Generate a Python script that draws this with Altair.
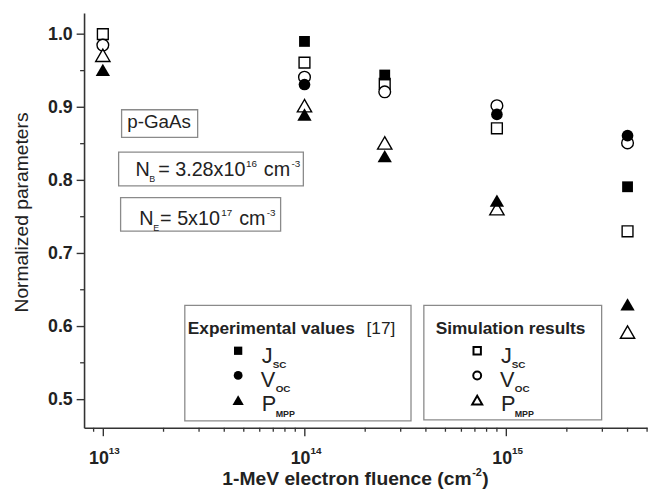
import altair as alt
import pandas as pd

# ---------------- data ----------------
fluence = [1e13, 1e14, 2.5e14, 9e14, 4e15]
sim_jsc = [1.000, 0.961, 0.932, 0.871, 0.730]
sim_voc = [0.985, 0.941, 0.921, 0.902, 0.851]
sim_pmpp = [0.971, 0.902, 0.851, 0.761, 0.592]

exp_jsc_fluence = [1e14, 2.5e14, 4e15]
exp_jsc = [0.990, 0.944, 0.791]
exp_voc_fluence = [1e14, 9e14, 4e15]
exp_voc = [0.931, 0.890, 0.861]
exp_pmpp = [0.951, 0.890, 0.833, 0.772, 0.630]

x_major = [1e13, 1e14, 1e15]
x_major_exp = ["13", "14", "15"]
x_minor = [9e12] + [k * 1e13 for k in range(2, 10)] + [k * 1e14 for k in range(2, 10)] + [k * 1e15 for k in range(2, 6)]
y_major = [0.5, 0.6, 0.7, 0.8, 0.9, 1.0]
y_minor = [0.55, 0.65, 0.75, 0.85, 0.95]

# ---------------- layout ----------------
FONT = "Liberation Sans"
OX, OY = 85, 10          # plot origin on the page
W, H = 570, 420
AX = "#333333"

xs = alt.Scale(type="log", domain=[8.07e12, 5e15], nice=False)
ys = alt.Scale(domain=[0.461, 1.029], nice=False, zero=False)
x_axis = alt.Axis(values=x_major, labels=False, title=None, grid=False, tickSize=8,
                  tickColor=AX, domainColor=AX, domainWidth=1.6, tickWidth=1.4)
y_axis = alt.Axis(values=y_major, format=".1f", title=None, grid=False, tickSize=8,
                  labelFont=FONT, labelFontSize=18, labelFontWeight="bold", labelColor="#222",
                  labelPadding=4, tickColor=AX, domainColor=AX, domainWidth=1.6, tickWidth=1.4)


def X(field):
    return alt.X(field, type="quantitative", scale=xs, axis=x_axis)


def Y(field):
    return alt.Y(field, type="quantitative", scale=ys, axis=y_axis)


def series(xv, yv):
    return pd.DataFrame({"f": xv, "v": yv})


def pts(df, shape, size, open_):
    if open_:
        m = alt.Chart(df).mark_point(shape=shape, size=size, filled=True, fill="white",
                                     stroke="black", strokeWidth=1.4, opacity=1)
    else:
        m = alt.Chart(df).mark_point(shape=shape, size=size, filled=True, color="black", opacity=1)
    return m.encode(x=X("f"), y=Y("v"))


layers = []

# open markers (simulation) first, filled (experimental) on top
layers.append(pts(series(fluence, sim_jsc), "square", 120, True))
layers.append(pts(series(fluence, sim_voc), "circle", 140, True))
layers.append(pts(series(fluence, sim_pmpp), "triangle-up", 210, True))
layers.append(pts(series(exp_jsc_fluence, exp_jsc), "square", 120, False))
layers.append(pts(series(exp_voc_fluence, exp_voc), "circle", 140, False))
layers.append(pts(series(fluence, exp_pmpp), "triangle-up", 210, False))

# minor ticks
layers.append(alt.Chart(pd.DataFrame({"f": x_minor})).mark_rule(color=AX, strokeWidth=1.3).encode(
    x=X("f"), y=alt.value(H), y2=alt.value(H + 4)))
layers.append(alt.Chart(pd.DataFrame({"v": y_minor})).mark_rule(color=AX, strokeWidth=1.3).encode(
    y=Y("v"), x=alt.value(0), x2=alt.value(-4)))

# x tick labels 10^n
xl = pd.DataFrame({"f": x_major, "e": x_major_exp, "b": ["10"] * 3})
layers.append(alt.Chart(xl).mark_text(font=FONT, fontSize=18, fontWeight="bold", align="right",
                                      dx=6, color="#222").encode(x=X("f"), y=alt.value(462 - OY), text="b:N"))
layers.append(alt.Chart(xl).mark_text(font=FONT, fontSize=10, fontWeight="bold", align="left",
                                      dx=6, color="#222").encode(x=X("f"), y=alt.value(454 - OY), text="e:N"))

# boxes (page coords)
boxes = pd.DataFrame({
    "x": [187, 429, 123, 120, 122],
    "x2": [416, 609, 200, 307, 284],
    "y": [306, 306, 108, 151, 197],
    "y2": [423, 422, 136, 185, 231],
})
for c in ["x", "x2"]:
    boxes[c] = boxes[c] - OX
for c in ["y", "y2"]:
    boxes[c] = boxes[c] - OY
layers.append(alt.Chart(boxes).mark_rect(fill="white", stroke="#8a8a8a", strokeWidth=1.3).encode(
    x=alt.X("x:Q", scale=None), x2="x2:Q", y=alt.Y("y:Q", scale=None), y2="y2:Q"))


def text_layer(rows, weight="normal", align="left", angle=0, baseline="alphabetic", color="#222"):
    df = pd.DataFrame(rows, columns=["px", "py", "t", "fs"])
    df["px"] = df["px"] - OX
    df["py"] = df["py"] - OY
    return alt.Chart(df).mark_text(font=FONT, fontWeight=weight, align=align, baseline=baseline,
                                   angle=angle, color=color).encode(
        x=alt.X("px:Q", scale=None), y=alt.Y("py:Q", scale=None), text="t:N",
        size=alt.Size("fs:Q", scale=None, legend=None))


# regular left-aligned texts
reg_left = [
    (137, 175, "N", 20), (160, 175, "= 3.28x10", 20), (267, 175, "cm", 20),
    (141, 225, "N", 20), (162, 225, "= 5x10", 20), (242, 225, "cm", 20),
    (265, 364, "J", 22), (264, 389, "V", 22), (265, 413, "P", 22),
    (507, 364, "J", 22), (506, 389, "V", 22), (507, 413, "P", 22),
    (371, 335, "[17]", 17.5),
]
small_left = [
    (151, 181, "B", 9), (249, 166, "16", 10), (295, 166, "-3", 10),
    (155, 231, "E", 9), (224, 216, "17", 10), (270, 216, "-3", 10),
]
bold_left = [
    (190, 335, "Experimental values", 17.5),
    (441, 335, "Simulation results", 17.5),
    (225, 488, "1-MeV electron fluence (cm", 19.5),
    (478, 479, "-2", 11), (488, 488, ")", 19.5),
    (276, 369, "SC", 10), (279, 394, "OC", 10), (279, 419, "MPP", 9),
    (518, 369, "SC", 10), (521, 394, "OC", 10), (521, 419, "MPP", 9),
]
layers.append(text_layer(reg_left))
layers.append(text_layer(small_left))
layers.append(text_layer(bold_left, weight="bold"))
layers.append(text_layer([(161, 126, "p-GaAs", 19)], align="center"))
layers.append(text_layer([(22, 212, "Normalized parameters", 19.5)], align="center", angle=270,
                         baseline="middle"))

# legend symbols (page coords)
leg = pd.DataFrame({
    "px": [241, 241, 241, 483, 483, 483],
    "py": [352, 377, 402, 352, 377, 402],
    "s": ["square", "circle", "triangle-up", "square", "circle", "triangle-up"],
    "k": ["exp", "exp", "exp", "sim", "sim", "sim"],
})
leg["px"] = leg["px"] - OX
leg["py"] = leg["py"] - OY
sizes = {"square": 70, "circle": 80, "triangle-up": 130}
for shape, size in sizes.items():
    d_exp = leg[(leg.s == shape) & (leg.k == "exp")]
    d_sim = leg[(leg.s == shape) & (leg.k == "sim")]
    layers.append(alt.Chart(d_exp).mark_point(shape=shape, size=size, filled=True, color="black",
                                              opacity=1).encode(
        x=alt.X("px:Q", scale=None), y=alt.Y("py:Q", scale=None)))
    layers.append(alt.Chart(d_sim).mark_point(shape=shape, size=size * 0.8, filled=True, fill="white",
                                              stroke="black", strokeWidth=2, opacity=1).encode(
        x=alt.X("px:Q", scale=None), y=alt.Y("py:Q", scale=None)))

chart = alt.layer(*layers).properties(
    width=W, height=H,
    autosize=alt.AutoSizeParams(type="none"),
    padding={"left": OX - 8, "top": OY - 8, "right": 7, "bottom": 62},
    background="white",
).configure_view(stroke=None)

chart.save("out.html", embed_options={"renderer": "svg", "actions": False})
